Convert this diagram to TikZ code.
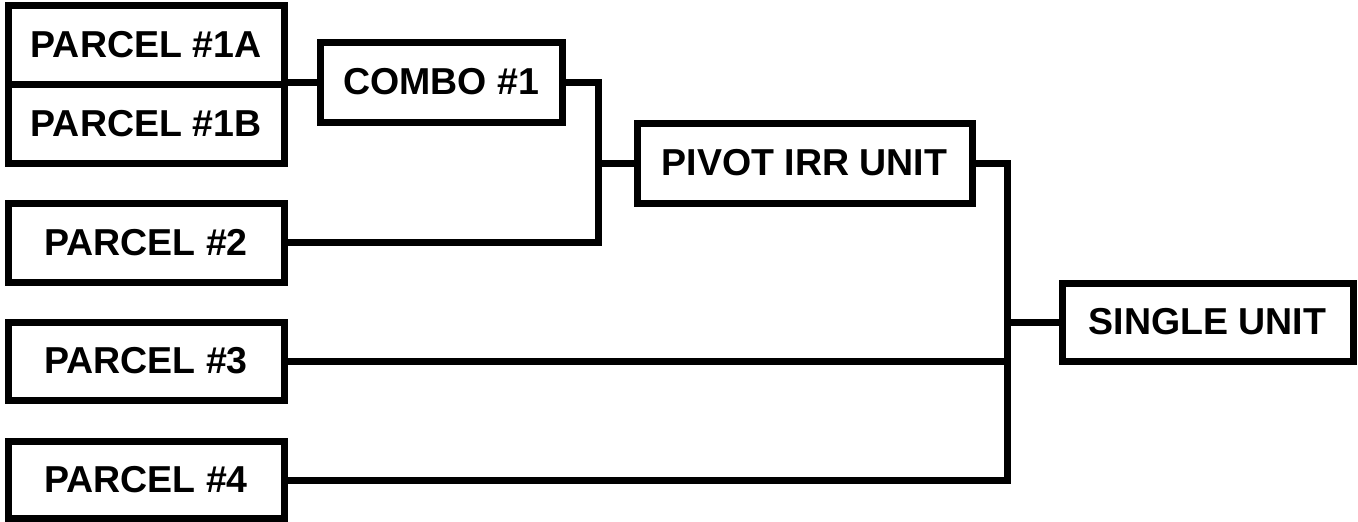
\documentclass[tikz,border=0pt]{standalone}
\usepackage{fontspec}
\setmainfont{Liberation Sans}
\begin{document}
\begin{tikzpicture}[x=1pt,y=-1pt,
  box/.style={draw=black, line width=7pt, rectangle, inner sep=0pt, fill=white,
    font=\fontsize{37.5}{40}\selectfont\bfseries, anchor=center},
  wire/.style={draw=black, line width=7pt}]
\useasboundingbox (0,0) rectangle (1358,522);
\fill[white] (0,0) rectangle (1358,522);
\coordinate (j2) at (598,163);
\coordinate (j3) at (1007,322);
\node[box, minimum width=276pt, minimum height=79pt] (p1a) at (146,44.5) {PARCEL \#1A};
\node[box, minimum width=276pt, minimum height=79pt] (p1b) at (146,123.5) {PARCEL \#1B};
\node[box, minimum width=276pt, minimum height=79pt] (p2) at (146,242.5) {PARCEL \#2};
\node[box, minimum width=276pt, minimum height=78pt] (p3) at (146,361) {PARCEL \#3};
\node[box, minimum width=276pt, minimum height=77pt] (p4) at (146,480) {PARCEL \#4};
\node[box, minimum width=242pt, minimum height=80pt] (combo) at (441,82) {COMBO \#1};
\node[box, minimum width=335pt, minimum height=80pt] (pivot) at (804.5,163) {PIVOT IRR UNIT};
\node[box, minimum width=291pt, minimum height=78pt] (single) at (1207.5,322) {SINGLE UNIT};
\draw[wire] (combo.west) -- (combo.west -| p1a.east);
\draw[wire] (combo.east) -| (j2) |- (p2.east);
\draw[wire] (j2) -- (pivot.west);
\draw[wire] (pivot.east) -| (j3) |- (p4.east);
\draw[wire] (j3) -- (single.west);
\draw[wire] (p3.east) -- (p3.east -| j3);
\end{tikzpicture}
\end{document}
